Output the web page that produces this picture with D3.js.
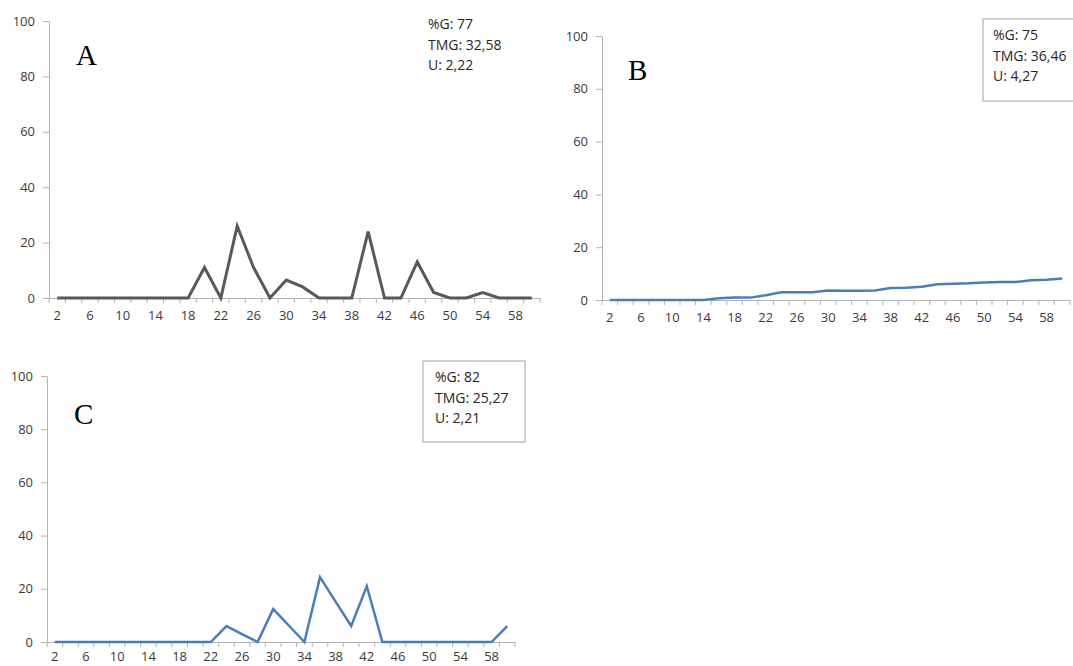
<!DOCTYPE html>
<html>
<head>
<meta charset="utf-8">
<script src="https://cdn.jsdelivr.net/npm/d3@7"></script>
<style>
  body { margin: 0; background: #fff; }
  svg { display: block; }
  .tick text { font-family: "Open Sans", sans-serif; font-size: 13px; fill: #3a3a3a; }
  .note { font-family: "Open Sans", sans-serif; font-size: 14px; fill: #262626; }
  .letter { font-family: "Liberation Serif", serif; font-size: 29px; fill: #000; }
</style>
</head>
<body>
<svg id="chart" width="1073" height="666"></svg>
<script>
// germination age categories (days)
var days = [2, 4, 6, 8, 10, 12, 14, 16, 18, 20, 22, 24, 26, 28, 30, 32, 34, 36, 38, 40, 42, 44, 46, 48, 50, 52, 54, 56, 58, 60];
var yTicks = [0, 20, 40, 60, 80, 100];

var valuesA = [0, 0, 0, 0, 0, 0, 0, 0, 0, 11, 0, 26, 11, 0, 6.5, 4, 0, 0, 0, 24, 0, 0, 13, 2, 0, 0, 2, 0, 0, 0];
var valuesB = [0, 0, 0, 0, 0, 0, 0, 0.7, 0.9, 0.9, 1.8, 2.9, 2.9, 2.9, 3.6, 3.5, 3.5, 3.6, 4.5, 4.6, 5, 6, 6.2, 6.3, 6.6, 6.8, 6.8, 7.5, 7.7, 8.1];
var valuesC = [0, 0, 0, 0, 0, 0, 0, 0, 0, 0, 0, 6, 3, 0, 12.4, 6.2, 0, 24.4, 15.2, 6, 21, 0, 0, 0, 0, 0, 0, 0, 0, 6];

var notesA = ["%G: 77", "TMG: 32,58", "U: 2,22"];
var notesB = ["%G: 75", "TMG: 36,46", "U: 4,27"];
var notesC = ["%G: 82", "TMG: 25,27", "U: 2,21"];

var svg = d3.select("#chart");

var panels = [
  { letter: "A", values: valuesA, notes: notesA, color: "#595959", width: 3,
    x0: 49, x1: 540, y0: 298, y1: 21, lx: 76, ly: 65, pad: 13,
    nx: 428, ny: 29, box: null },
  { letter: "B", values: valuesB, notes: notesB, color: "#4a7ebb", width: 2.5,
    x0: 602, x1: 1070, y0: 300, y1: 36, lx: 628, ly: 80, pad: 13,
    nx: 993, ny: 40, box: [983, 19, 100, 82] },
  { letter: "C", values: valuesC, notes: notesC, color: "#4a7ebb", width: 2.5,
    x0: 47, x1: 515, y0: 642, y1: 376, lx: 74, ly: 424, pad: 10,
    nx: 435, ny: 382, box: [423, 361, 102, 81] }
];

panels.forEach(function(p) {
  var g = svg.append("g");

  var x = d3.scaleBand().domain(days).range([p.x0, p.x1]);
  var y = d3.scaleLinear().domain([0, 100]).range([p.y0, p.y1]);

  // y axis
  var yAxis = g.append("g")
      .attr("transform", "translate(" + p.x0 + ",0)")
      .call(d3.axisLeft(y).tickValues(yTicks).tickSize(6).tickPadding(8).tickSizeOuter(0));
  yAxis.selectAll("line, path").attr("stroke", "#b3b3b3");

  // x axis: labels every other category, tick marks between categories
  var xAxis = g.append("g")
      .attr("transform", "translate(0," + p.y0 + ")")
      .call(d3.axisBottom(x).tickSize(0).tickPadding(p.pad)
        .tickFormat(function(d, i) { return i % 2 === 0 ? d : ""; }));
  xAxis.select(".domain").attr("stroke", "#b3b3b3");

  var bounds = days.map(function(d) { return x(d); }).concat([p.x1]);
  g.selectAll(".xtick")
    .data(bounds)
    .enter().append("line")
      .attr("x1", function(d) { return d; })
      .attr("x2", function(d) { return d; })
      .attr("y1", p.y0)
      .attr("y2", p.y0 + 5)
      .attr("stroke", "#b3b3b3");

  // series line
  var line = d3.line()
      .x(function(d, i) { return x(days[i]) + x.bandwidth() / 2; })
      .y(function(d) { return y(d); });

  g.append("path")
      .datum(p.values)
      .attr("d", line)
      .attr("fill", "none")
      .attr("stroke", p.color)
      .attr("stroke-width", p.width)
      .attr("stroke-linejoin", "miter");

  // annotation box
  if (p.box) {
    g.append("rect")
        .attr("x", p.box[0]).attr("y", p.box[1])
        .attr("width", p.box[2]).attr("height", p.box[3])
        .attr("fill", "#fff")
        .attr("stroke", "#c0c0c0")
        .attr("stroke-width", 1.5);
  }
  g.selectAll(".note")
    .data(p.notes)
    .enter().append("text")
      .attr("class", "note")
      .attr("x", p.nx)
      .attr("y", function(d, i) { return p.ny + i * 20.5; })
      .text(function(d) { return d; });

  g.append("text")
      .attr("class", "letter")
      .attr("x", p.lx)
      .attr("y", p.ly)
      .text(p.letter);
});
</script>
</body>
</html>
